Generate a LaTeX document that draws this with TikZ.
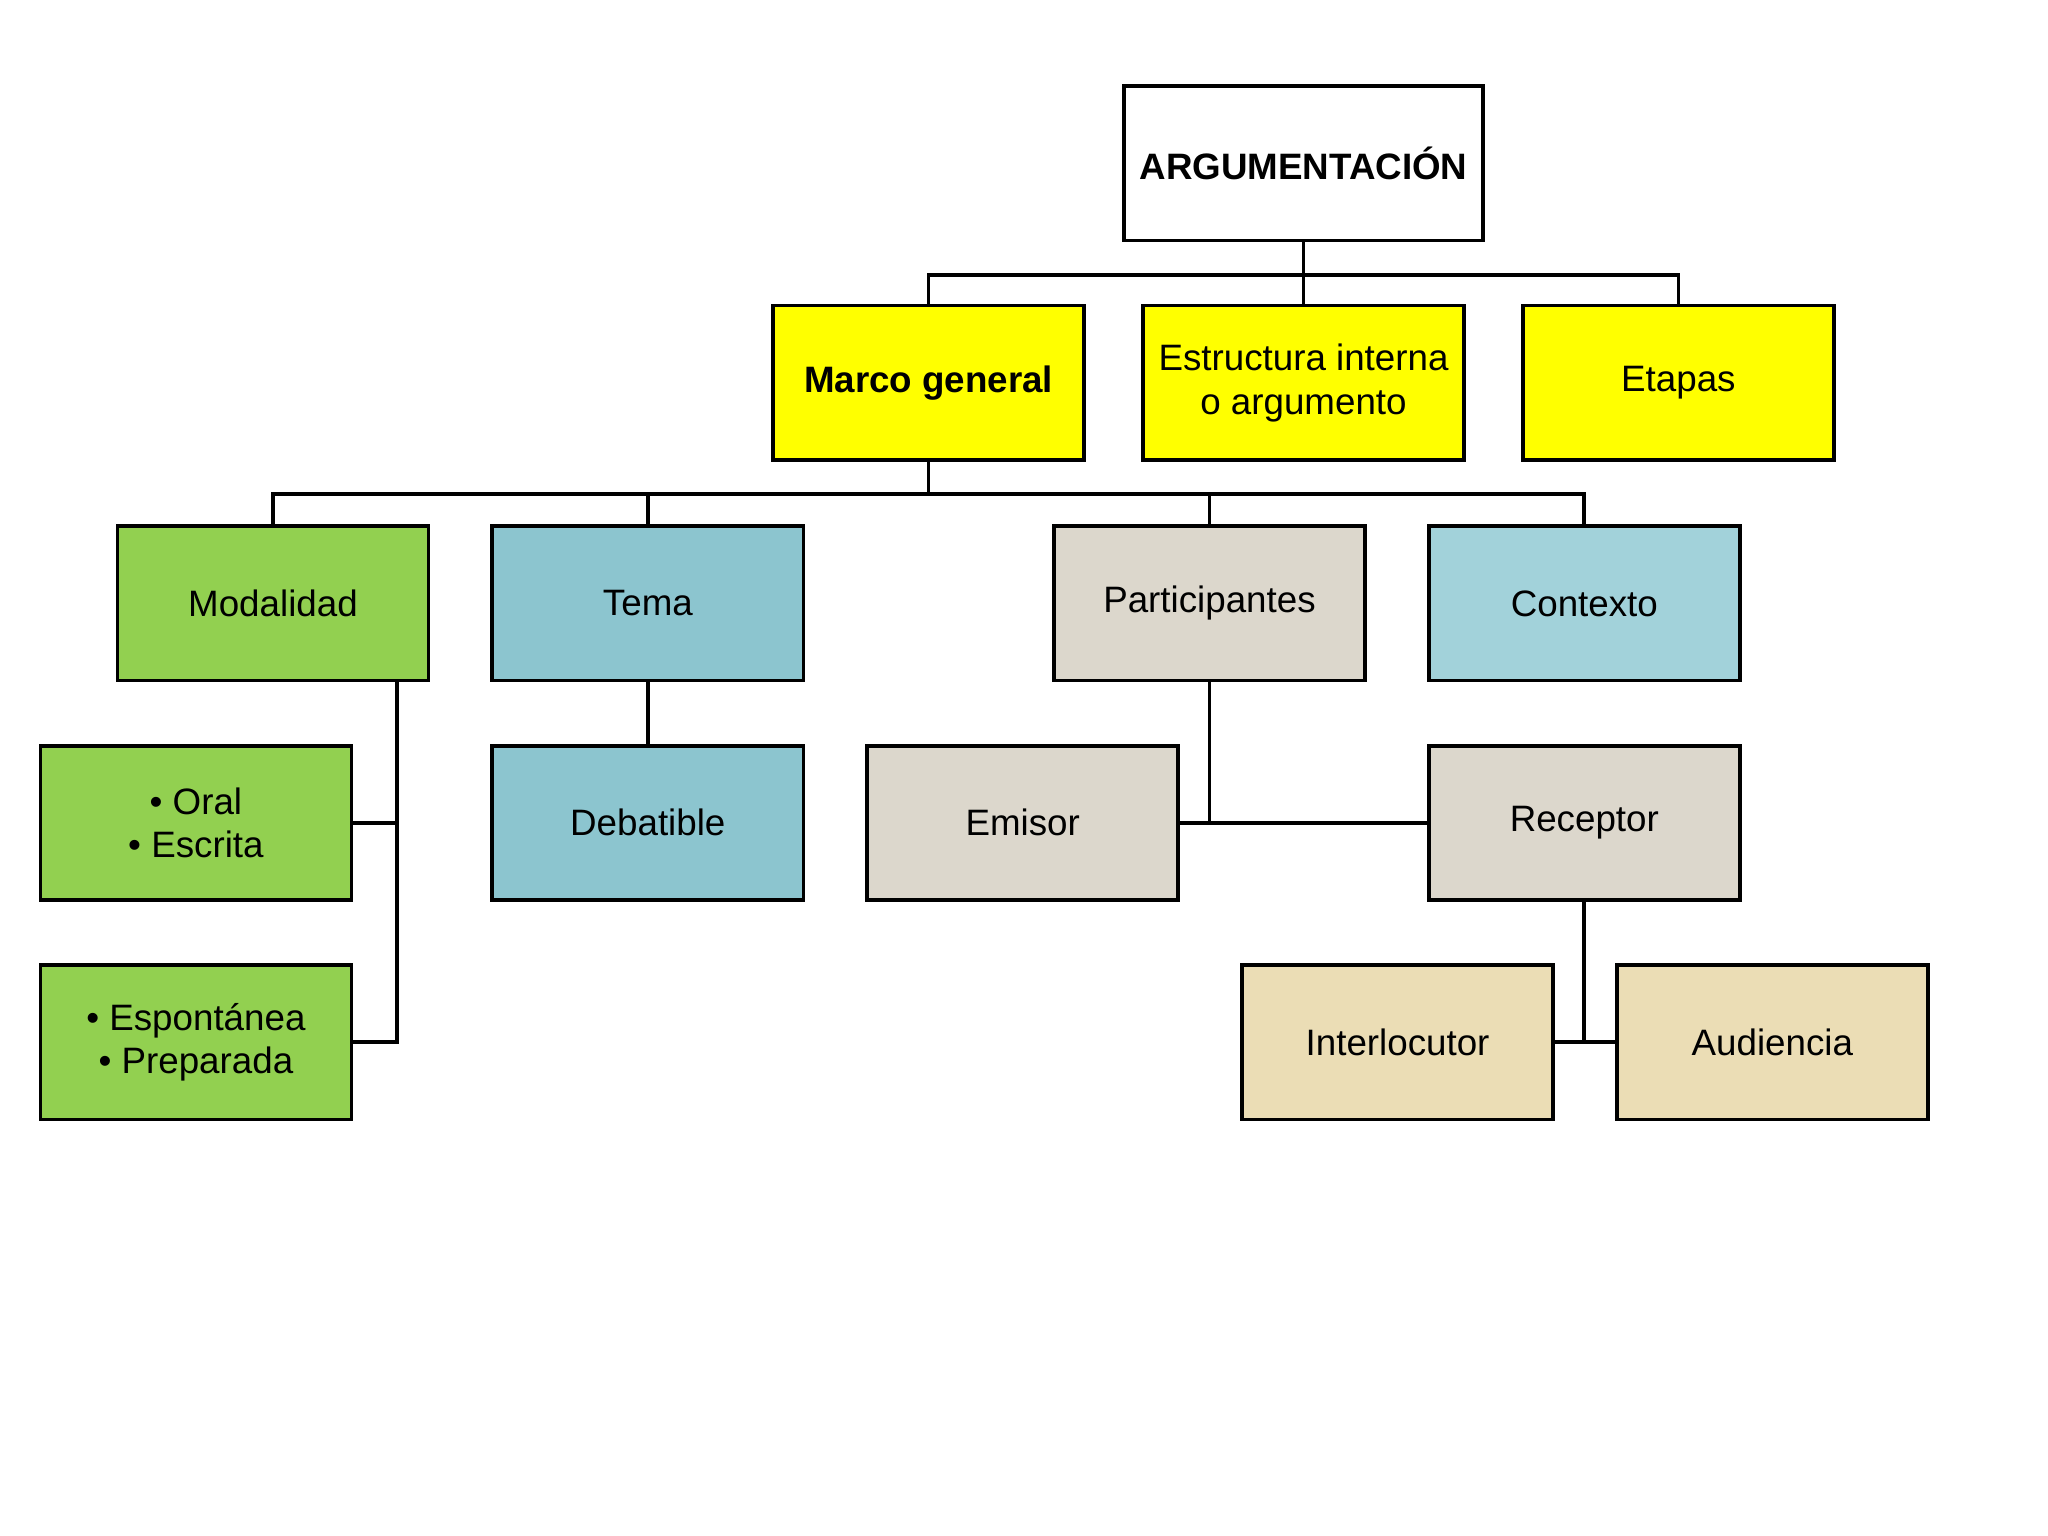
\documentclass[tikz,border=0pt]{standalone}
\usepackage{fontspec}
\setmainfont{Liberation Sans}
\usepackage{tikz}
\usetikzlibrary{positioning}
\definecolor{amarillo}{HTML}{FFFF00}
\definecolor{verde}{HTML}{92D050}
\definecolor{celeste}{HTML}{8CC5CF}
\definecolor{celesteclaro}{HTML}{A2D2DA}
\definecolor{gris}{HTML}{DCD7CC}
\definecolor{arena}{HTML}{EBDDB5}
\begin{document}
\begin{tikzpicture}[x=0.01cm,y=-0.01cm,
                    cajanode/.style={rectangle, draw=black, thick, minimum width=2.38cm, minimum height=1.18cm, align=center, font=\fontsize{8}{9.5}\selectfont},
                    linea/.style={thick}]
                \useasboundingbox (0,0) rectangle (1568,1176);
                \node[cajanode, fill=white, font=\fontsize{8}{9.5}\selectfont\bfseries] (arg) at (998,125) {ARGUMENTACIÓN};
                \node[cajanode, fill=amarillo, font=\fontsize{8}{9.5}\selectfont\bfseries] (marco) at (711,293) {Marco general};
                \node[cajanode, fill=amarillo] (estructura) at (998,293) {Estructura interna\\o argumento};
                \node[cajanode, fill=amarillo] (etapas) at (1285,293) {Etapas};
                \node[cajanode, fill=verde] (modalidad) at (209,462) {Modalidad};
                \node[cajanode, fill=celeste] (tema) at (496,462) {Tema};
                \node[cajanode, fill=gris] (participantes) at (926,462) {Participantes};
                \node[cajanode, fill=celesteclaro] (contexto) at (1213,462) {Contexto};
                \node[cajanode, fill=verde] (oral) at (150,630) {• Oral\\• Escrita};
                \node[cajanode, fill=celeste] (debatible) at (496,630) {Debatible};
                \node[cajanode, fill=gris] (emisor) at (783,630) {Emisor};
                \node[cajanode, fill=gris] (receptor) at (1213,630) {Receptor};
                \node[cajanode, fill=verde] (espontanea) at (150,798) {• Espontánea\\• Preparada};
                \node[cajanode, fill=arena] (interlocutor) at (1070,798) {Interlocutor};
                \node[cajanode, fill=arena] (audiencia) at (1357,798) {Audiencia};
                \draw[linea] (arg.south) -- ++(0,25) -| (marco.north);
                \draw[linea] (arg.south) -- ++(0,25) -| (etapas.north);
                \draw[linea] (arg.south) -- (estructura.north);
                \draw[linea] (marco.south) -- ++(0,25) -| (modalidad.north);
                \draw[linea] (marco.south) -- ++(0,25) -| (tema.north);
                \draw[linea] (marco.south) -- ++(0,25) -| (participantes.north);
                \draw[linea] (marco.south) -- ++(0,25) -| (contexto.north);
                \draw[linea] (modalidad.south -| 304,0) |- (espontanea.east);
                \draw[linea] (oral.east) -- (oral.east -| 304,0);
                \draw[linea] (tema.south) -- (debatible.north);
                \draw[linea] (participantes.south) -- (participantes.south |- emisor.east);
                \draw[linea] (emisor.east) -- (receptor.west);
                \draw[linea] (receptor.south) -- (receptor.south |- interlocutor.east);
                \draw[linea] (interlocutor.east) -- (audiencia.west);
            \end{tikzpicture}
\end{document}
